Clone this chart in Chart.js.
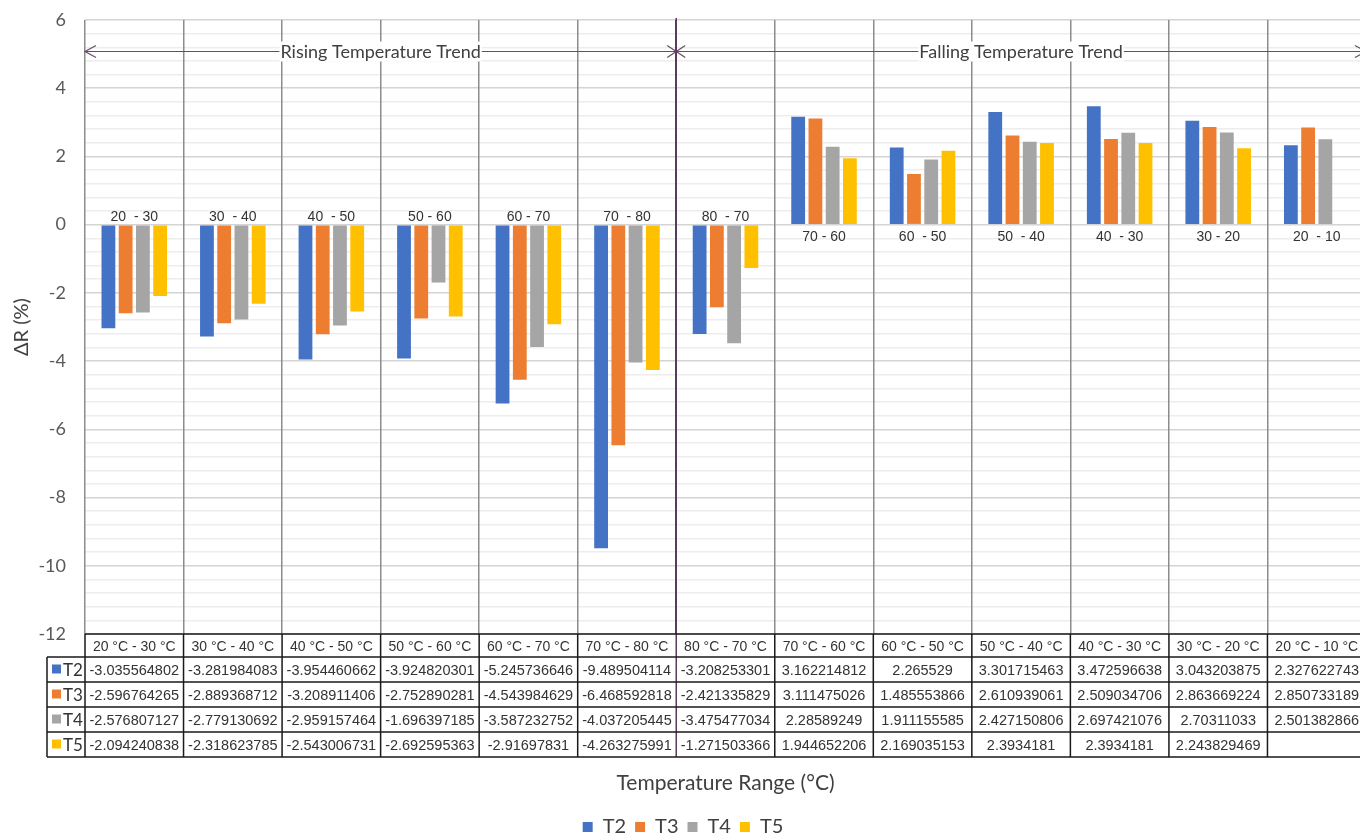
<!DOCTYPE html>
<html>
<head>
<meta charset="utf-8">
<script src="https://cdn.jsdelivr.net/npm/chart.js@4.4.0/dist/chart.umd.min.js"></script>
<style>
  html, body { margin: 0; padding: 0; background: #fff; overflow: hidden; }
  canvas { display: block; }
</style>
</head>
<body>
<canvas id="chart" width="1370" height="847"></canvas>
<script>
// ===== data =====
const categories = ['20 °C - 30 °C', '30 °C - 40 °C', '40 °C - 50 °C', '50 °C - 60 °C', '60 °C - 70 °C', '70 °C - 80 °C',
  '80 °C - 70 °C', '70 °C - 60 °C', '60 °C - 50 °C', '50 °C - 40 °C', '40 °C - 30 °C', '30 °C - 20 °C', '20 °C - 10 °C'];
const rangeLabels = ['20  - 30', '30  - 40', '40  - 50', '50 - 60', '60 - 70', '70  - 80',
  '80  - 70', '70 - 60', '60  - 50', '50  - 40', '40  - 30', '30 - 20', '20  - 10'];
const seriesNames = ['T2', 'T3', 'T4', 'T5'];
const T2 = [-3.035564802, -3.281984083, -3.954460662, -3.924820301, -5.245736646, -9.489504114, -3.208253301,
  3.162214812, 2.265529, 3.301715463, 3.472596638, 3.043203875, 2.327622743];
const T3 = [-2.596764265, -2.889368712, -3.208911406, -2.752890281, -4.543984629, -6.468592818, -2.421335829,
  3.111475026, 1.485553866, 2.610939061, 2.509034706, 2.863669224, 2.850733189];
const T4 = [-2.576807127, -2.779130692, -2.959157464, -1.696397185, -3.587232752, -4.037205445, -3.475477034,
  2.28589249, 1.911155585, 2.427150806, 2.697421076, 2.70311033, 2.501382866];
const T5 = [-2.094240838, -2.318623785, -2.543006731, -2.692595363, -2.91697831, -4.263275991, -1.271503366,
  1.944652206, 2.169035153, 2.3934181, 2.3934181, 2.243829469, null];
const trendLabels = ['Rising Temperature Trend', 'Falling Temperature Trend'];
const trendSplit = 6;      // first category of the falling trend
const trendArrowY = 5.1;   // height of the trend arrows (axis units)

const colors = ['#4472c4', '#ed7d31', '#a5a5a5', '#ffc000'];
const allSeries = [T2, T3, T4, T5];

const CHART_BOTTOM = 634;
const ROW_H = [23, 25, 25, 25, 25];
const KEY_LEFT = 47;

// ===== table + notes =====
const notesPlugin = {
  id: 'notes',
  afterDraw(chart) {
    const ctx = chart.ctx;
    const x = chart.scales.x, y = chart.scales.y;
    const area = chart.chartArea;
    const catW = (x.right - x.left) / categories.length;
    const edges = [];
    for (let i = 0; i <= categories.length; i++) edges.push(x.left + i * catW);
    const splitX = edges[trendSplit];

    ctx.save();
    // range labels inside the plot
    ctx.font = '14px "Liberation Sans", Arial, sans-serif';
    ctx.fillStyle = '#333';
    ctx.textAlign = 'center';
    const zeroY = y.getPixelForValue(0);
    rangeLabels.forEach((lbl, i) => {
      const cx = x.getPixelForValue(i);
      if (T2[i] < 0) {
        ctx.textBaseline = 'alphabetic';
        ctx.fillText(lbl, cx, zeroY - 4);
      } else {
        ctx.textBaseline = 'top';
        ctx.fillText(lbl, cx, zeroY + 5);
      }
    });

    // trend arrows
    const ay = Math.round(y.getPixelForValue(trendArrowY)) + 0.5;
    ctx.strokeStyle = '#6b4a6b';
    ctx.lineWidth = 1.2;
    ctx.beginPath();
    ctx.moveTo(area.left, ay); ctx.lineTo(area.right, ay);
    ctx.moveTo(area.left + 11, ay - 6); ctx.lineTo(area.left, ay); ctx.lineTo(area.left + 11, ay + 6);
    ctx.moveTo(area.right - 11, ay - 6); ctx.lineTo(area.right, ay); ctx.lineTo(area.right - 11, ay + 6);
    ctx.moveTo(splitX - 9, ay - 6); ctx.lineTo(splitX + 9, ay + 6);
    ctx.moveTo(splitX - 9, ay + 6); ctx.lineTo(splitX + 9, ay - 6);
    ctx.stroke();

    ctx.font = '18px Lato, "Open Sans", sans-serif';
    ctx.textBaseline = 'middle';
    const mids = [(area.left + splitX) / 2, (splitX + area.right) / 2];
    trendLabels.forEach((t, i) => {
      const w = ctx.measureText(t).width;
      ctx.fillStyle = '#fff';
      ctx.fillRect(mids[i] - w / 2 - 1, ay - 10, w + 2, 20);
      ctx.fillStyle = '#404040';
      ctx.fillText(t, mids[i], ay + 1);
    });

    // vertical split line
    ctx.strokeStyle = '#5a3a5a';
    ctx.lineWidth = 1.5;
    ctx.beginPath();
    ctx.moveTo(splitX, area.top - 2);
    ctx.lineTo(splitX, CHART_BOTTOM + ROW_H.reduce((a, b) => a + b, 0));
    ctx.stroke();

    // data table
    const rowsY = [CHART_BOTTOM];
    ROW_H.forEach(h => rowsY.push(rowsY[rowsY.length - 1] + h));
    const tableBottom = rowsY[rowsY.length - 1];
    ctx.strokeStyle = '#1a1a1a';
    ctx.lineWidth = 1.5;
    ctx.beginPath();
    ctx.moveTo(edges[0], rowsY[0]); ctx.lineTo(edges[edges.length - 1], rowsY[0]);
    for (let r = 1; r < rowsY.length; r++) {
      ctx.moveTo(KEY_LEFT, rowsY[r]); ctx.lineTo(edges[edges.length - 1], rowsY[r]);
    }
    edges.forEach((ex, i) => {
      if (i === trendSplit) return;
      ctx.moveTo(ex, rowsY[0]); ctx.lineTo(ex, tableBottom);
    });
    ctx.moveTo(KEY_LEFT, rowsY[1]); ctx.lineTo(KEY_LEFT, tableBottom);
    ctx.stroke();

    // key column
    seriesNames.forEach((name, r) => {
      const cy = (rowsY[r + 1] + rowsY[r + 2]) / 2;
      ctx.fillStyle = colors[r];
      ctx.fillRect(KEY_LEFT + 5, cy - 5, 9, 9);
      ctx.fillStyle = '#333';
      ctx.font = '17px Lato, "Open Sans", sans-serif';
      ctx.textAlign = 'left';
      ctx.textBaseline = 'middle';
      ctx.fillText(name, KEY_LEFT + 16, cy + 1);
    });

    // values
    ctx.font = '14.5px "Liberation Sans", Arial, sans-serif';
    ctx.textAlign = 'center';
    ctx.fillStyle = '#333';
    allSeries.forEach((vals, r) => {
      const cy = (rowsY[r + 1] + rowsY[r + 2]) / 2;
      vals.forEach((v, i) => {
        if (v === null) return;
        ctx.fillText(String(v), x.getPixelForValue(i), cy + 1);
      });
    });
    ctx.restore();
  }
};

const datasets = seriesNames.map((name, i) => ({
  label: name,
  data: allSeries[i],
  backgroundColor: colors[i],
  borderWidth: 0,
  categoryPercentage: 0.7,
  barPercentage: 0.8
}));

new Chart(document.getElementById('chart'), {
  type: 'bar',
  data: { labels: categories, datasets: datasets },
  options: {
    responsive: false,
    animation: false,
    layout: { padding: { top: 20, right: 4, left: 0, bottom: 0 } },
    plugins: {
      tooltip: { enabled: false },
      legend: {
        position: 'bottom',
        labels: {
          boxWidth: 10, boxHeight: 10, padding: 9,
          color: '#404040',
          font: { family: 'Lato, "Open Sans", sans-serif', size: 20 }
        }
      }
    },
    scales: {
      x: {
        grid: {
          offset: true,
          drawTicks: false,
          z: 0,
          color: ctx => ctx.index === trendSplit ? '#5a3a5a' : '#8c8c8c',
          lineWidth: 1.5
        },
        border: { display: false },
        ticks: {
          autoSkip: false, maxRotation: 0, padding: 5,
          color: '#333',
          font: { family: '"Liberation Sans", Arial, sans-serif', size: 14 }
        },
        title: {
          display: true,
          text: 'Temperature Range (°C)',
          color: '#404040',
          font: { family: 'Lato, "Open Sans", sans-serif', size: 21 },
          padding: { top: 0, bottom: 12 }
        },
        afterFit: s => {
          const lh = s.chart.legend ? s.chart.legend.height : 40;
          s.height = s.chart.height - lh - CHART_BOTTOM;
        }
      },
      y: {
        min: -12, max: 6,
        grid: {
          drawTicks: false,
          color: ctx => {
            const v = ctx.tick ? ctx.tick.value : 0;
            const r = Math.abs(v / 2 - Math.round(v / 2));
            return r < 1e-6 ? '#d4d4d4' : '#ededed';
          },
          lineWidth: 1.5
        },
        border: { display: false },
        ticks: {
          stepSize: 0.4, autoSkip: false, padding: 19,
          color: '#595959',
          font: { family: 'Lato, "Open Sans", sans-serif', size: 18 },
          callback: v => {
            const r = Math.abs(v / 2 - Math.round(v / 2));
            return r < 1e-6 ? String(Math.round(v)) : '';
          }
        },
        title: {
          display: true,
          text: 'ΔR (%)',
          color: '#404040',
          font: { family: 'Lato, "Open Sans", sans-serif', size: 20 },
          padding: { top: 10, bottom: 0 }
        },
        afterFit: s => {
          s.width = 85;
          s.paddingTop = 0;
          s.paddingBottom = 0;
        }
      }
    }
  },
  plugins: [notesPlugin]
});
</script>
</body>
</html>
